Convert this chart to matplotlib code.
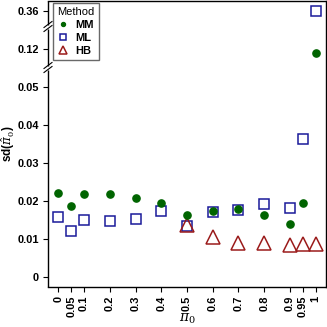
import numpy as np
import matplotlib
matplotlib.use('Agg')
import matplotlib.pyplot as plt

plt.rcParams['font.family'] = ['Liberation Sans', 'DejaVu Sans']
plt.rcParams['mathtext.fontset'] = 'dejavuserif'

# data
pi0 = [0, 0.05, 0.1, 0.2, 0.3, 0.4, 0.5, 0.6, 0.7, 0.8, 0.9, 0.95, 1]
pi0_labels = ['0', '0.05', '0.1', '0.2', '0.3', '0.4', '0.5', '0.6', '0.7', '0.8', '0.9', '0.95', '1']
sd_mm = [0.0220, 0.0188, 0.0218, 0.0218, 0.0207, 0.0196, 0.0164, 0.0174, 0.0178, 0.0164, 0.0139, 0.0194, 0.117]
sd_ml = [0.0158, 0.0121, 0.0149, 0.0147, 0.0153, 0.0173, 0.0134, 0.0172, 0.0176, 0.0192, 0.0181, 0.0362, 0.360]
sd_hb = [np.nan, np.nan, np.nan, np.nan, np.nan, np.nan,
         0.0137, 0.0104, 0.0089, 0.0089, 0.0083, 0.0088, 0.0087]
ytick_vals = [0, 0.01, 0.02, 0.03, 0.04, 0.05, 0.12, 0.36]
ytick_labels = ['0', '0.01', '0.02', '0.03', '0.04', '0.05', '0.12', '0.36']

# broken y axis: piecewise linear scale (value -> pixel height)
vals = [-0.00263, 0.055, 0.105, 0.1374, 0.34, 0.3725]
pix = [0, 219, 219.001, 260, 260.001, 286]
def fwd(v):
    return np.interp(v, vals, pix)
def inv(p):
    return np.interp(p, pix, vals)

fig = plt.figure(figsize=(3.27, 3.27), dpi=100)
ax = fig.add_axes([48/327, 40/327, 278/327, 286/327])
ax.set_yscale('function', functions=(fwd, inv))

ax.plot(pi0, sd_mm, 'o', color='#006400', ms=5.2, mec='#006400', label='MM', zorder=3)
ax.plot(pi0, sd_ml, 's', color='#1a1a9a', ms=7.8, mfc='none', mew=1.1, label='ML', zorder=2)
ax.plot(pi0, sd_hb, '^', color='#9b1b1b', ms=9.5, mfc='none', mew=1.1, label='HB', zorder=2)

ax.set_xlim(-0.04, 1.04)
ax.set_ylim(vals[0], vals[-1])
ax.set_xticks(pi0)
ax.set_xticklabels(pi0_labels, rotation=90, fontweight='bold', fontsize=7.9)
ax.set_yticks(ytick_vals)
ax.set_yticklabels(ytick_labels, fontweight='bold', fontsize=7.9)
ax.yaxis.set_minor_locator(matplotlib.ticker.NullLocator())
ax.tick_params(direction='out', length=3.5, width=0.8, pad=3)

ax.set_xlabel(r'$\pi_0$', fontsize=10)
ax.xaxis.set_label_coords(0.5, -0.11)
ax.xaxis.label.set_va('center')
ax.set_ylabel(r'sd($\hat{\pi}_0$)', fontsize=8.5, fontweight='bold')
ax.yaxis.set_label_coords(-0.143, 0.5)
ax.yaxis.label.set_va('center')

# left spine drawn in pieces with slash breaks
ax.spines['left'].set_visible(False)
for s in ['top', 'right', 'bottom']:
    ax.spines[s].set_linewidth(1.0)
H = 286.0
W = 278.0
breaks = [219.5, 260.5]
edges = [0] + [b for b in breaks for _ in (0, 1)] + [H]
gap = 2.0
for i in range(0, len(edges), 2):
    y0 = edges[i] + (gap if i > 0 else 0)
    y1 = edges[i + 1] - (gap if i + 1 < len(edges) - 1 else 0)
    ax.plot([0, 0], [y0 / H, y1 / H], color='black', lw=1.0,
            transform=ax.transAxes, clip_on=False, solid_capstyle='butt')
for b in breaks:
    for off in (-gap, gap):
        yc = (b + off) / H
        ax.plot([-4 / W, 4 / W], [yc - 3 / H, yc + 3 / H], color='black', lw=0.8,
                transform=ax.transAxes, clip_on=False)

leg = ax.legend(title='Method', loc='upper left', bbox_to_anchor=(0.018, 0.993),
                borderaxespad=0, fancybox=False, edgecolor='#444444',
                markerscale=0.55, handlelength=1.0, handletextpad=0.6,
                labelspacing=0.25, borderpad=0.4, prop={'weight': 'bold', 'size': 8},
                title_fontsize=8)
leg.get_frame().set_linewidth(1.0)

fig.savefig('out.png', dpi=100)
